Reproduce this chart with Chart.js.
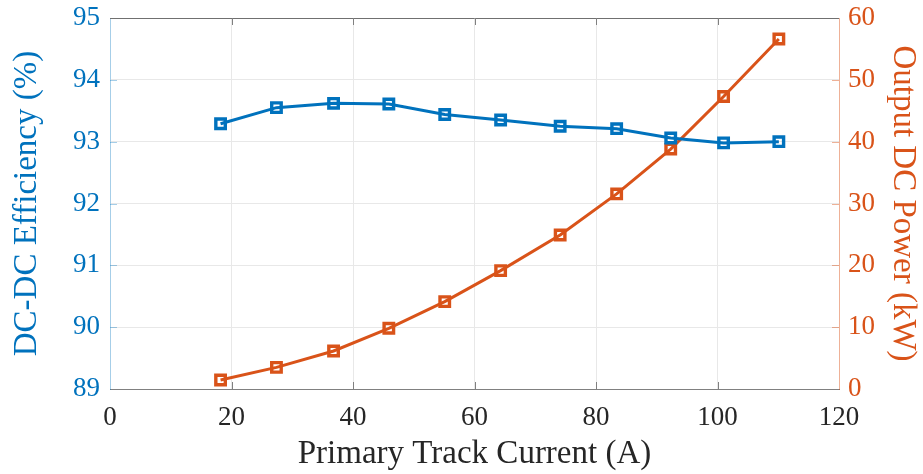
<!DOCTYPE html>
<html>
<head>
<meta charset="utf-8">
<script src="https://cdn.jsdelivr.net/npm/chart.js@4/dist/chart.umd.min.js"></script>
<style>
  html, body { margin: 0; padding: 0; background: #ffffff; }
  #wrap { width: 923px; height: 474px; }
</style>
</head>
<body>
<div id="wrap"><canvas id="c" width="923" height="474"></canvas></div>
<script>
// Measured operating points
const currentA      = [18.2, 27.4, 36.8, 45.9, 55.1, 64.3, 74.1, 83.4, 92.3, 101.0, 110.1];
const efficiencyPct = [93.29, 93.55, 93.62, 93.61, 93.44, 93.35, 93.25, 93.21, 93.06, 92.98, 93.00];
const outputPowerKW = [1.46, 3.5, 6.15, 9.82, 14.13, 19.14, 24.9, 31.55, 38.8, 47.3, 56.6];

// Axis ranges and tick steps
const xRange   = [0, 120, 20];
const effRange = [89, 95, 1];
const pwrRange = [0, 60, 10];

const BLUE = '#0072BD';
const ORANGE = '#D95319';
const INK = '#262626';
const GRID = '#e8e8e8';
const SERIF = '"Liberation Serif", "Times New Roman", serif';

const toPoints = (xs, ys) => xs.map((x, i) => ({ x, y: ys[i] }));

// Interior grid only; the frame is drawn by the axis borders and the box plugin
const innerGrid = (ctx) => {
  const s = ctx.scale;
  const v = ctx.tick ? ctx.tick.value : null;
  return (v === s.min || v === s.max) ? 'rgba(0,0,0,0)' : GRID;
};

// Fixed axis widths; end labels may overhang the plot box
const fixWidth = (w) => (s) => {
  s.width = w;
  s.paddingTop = 0;
  s.paddingBottom = 0;
};

// Closes the box along the top and draws inward-pointing tick marks
const boxFrame = {
  id: 'boxFrame',
  afterDraw(chart) {
    const { ctx, chartArea: a, scales } = chart;
    const len = 7;
    ctx.save();
    ctx.lineWidth = 1;
    // top edge
    ctx.strokeStyle = '#707070';
    ctx.beginPath();
    ctx.moveTo(a.left, a.top + 0.5);
    ctx.lineTo(a.right, a.top + 0.5);
    ctx.stroke();
    // x ticks, bottom and top
    ctx.strokeStyle = '#808080';
    scales.x.ticks.forEach(t => {
      if (t.value === scales.x.min || t.value === scales.x.max) return;
      const px = Math.round(scales.x.getPixelForValue(t.value)) + 0.5;
      ctx.beginPath();
      ctx.moveTo(px, a.bottom); ctx.lineTo(px, a.bottom - len);
      ctx.moveTo(px, a.top); ctx.lineTo(px, a.top + len);
      ctx.stroke();
    });
    // left ticks
    ctx.strokeStyle = 'rgba(0,114,189,0.35)';
    scales.yEff.ticks.forEach(t => {
      if (t.value === scales.yEff.min || t.value === scales.yEff.max) return;
      const py = Math.round(scales.yEff.getPixelForValue(t.value)) + 0.5;
      ctx.beginPath();
      ctx.moveTo(a.left, py); ctx.lineTo(a.left + len, py);
      ctx.stroke();
    });
    // right ticks
    ctx.strokeStyle = 'rgba(217,83,25,0.45)';
    scales.yPwr.ticks.forEach(t => {
      if (t.value === scales.yPwr.min || t.value === scales.yPwr.max) return;
      const py = Math.round(scales.yPwr.getPixelForValue(t.value)) + 0.5;
      ctx.beginPath();
      ctx.moveTo(a.right, py); ctx.lineTo(a.right - len, py);
      ctx.stroke();
    });
    ctx.restore();
  }
};

const seriesStyle = (color) => ({
  borderColor: color,
  backgroundColor: 'rgba(0,0,0,0)',
  borderWidth: 3,
  pointStyle: 'rect',
  pointRadius: 6.7,
  pointHoverRadius: 6.7,
  pointBorderWidth: 3.4,
  pointBorderColor: color,
  pointBackgroundColor: 'rgba(0,0,0,0)',
  tension: 0,
  clip: false
});

new Chart(document.getElementById('c'), {
  type: 'line',
  data: {
    datasets: [
      Object.assign({ label: 'DC-DC Efficiency', yAxisID: 'yEff',
        data: toPoints(currentA, efficiencyPct) }, seriesStyle(BLUE)),
      Object.assign({ label: 'Output DC Power', yAxisID: 'yPwr',
        data: toPoints(currentA, outputPowerKW) }, seriesStyle(ORANGE))
    ]
  },
  options: {
    responsive: false,
    animation: false,
    events: [],
    layout: { padding: { top: 18, left: 0, right: 0, bottom: 0 } },
    plugins: { legend: { display: false }, tooltip: { enabled: false } },
    scales: {
      x: {
        type: 'linear',
        min: xRange[0], max: xRange[1],
        afterFit(s) { s.height = 85; },
        ticks: { stepSize: xRange[2], padding: 13, color: INK,
          font: { family: SERIF, size: 27 } },
        grid: { color: innerGrid, drawTicks: false, lineWidth: 1 },
        border: { color: '#808080', width: 1 },
        title: { display: true, text: 'Primary Track Current (A)', color: INK,
          font: { family: SERIF, size: 33 }, padding: { top: 0, bottom: 0 } }
      },
      yEff: {
        type: 'linear', position: 'left',
        min: effRange[0], max: effRange[1],
        afterFit: fixWidth(110),
        ticks: { stepSize: effRange[2], padding: 10, color: BLUE,
          font: { family: SERIF, size: 27 } },
        grid: { color: innerGrid, drawTicks: false, lineWidth: 1 },
        border: { color: 'rgba(0,114,189,0.35)', width: 1 },
        title: { display: true, text: 'DC-DC Efficiency (%)', color: BLUE,
          font: { family: SERIF, size: 33 }, padding: { top: 8, bottom: 0 } }
      },
      yPwr: {
        type: 'linear', position: 'right',
        min: pwrRange[0], max: pwrRange[1],
        afterFit: fixWidth(84),
        ticks: { stepSize: pwrRange[2], padding: 9, color: ORANGE,
          font: { family: SERIF, size: 27 } },
        grid: { drawOnChartArea: false, drawTicks: false },
        border: { color: 'rgba(217,83,25,0.45)', width: 1 },
        title: { display: true, text: 'Output DC Power (kW)', color: ORANGE,
          font: { family: SERIF, size: 33 }, padding: { top: 1, bottom: 0 } }
      }
    }
  },
  plugins: [boxFrame]
});
</script>
</body>
</html>
